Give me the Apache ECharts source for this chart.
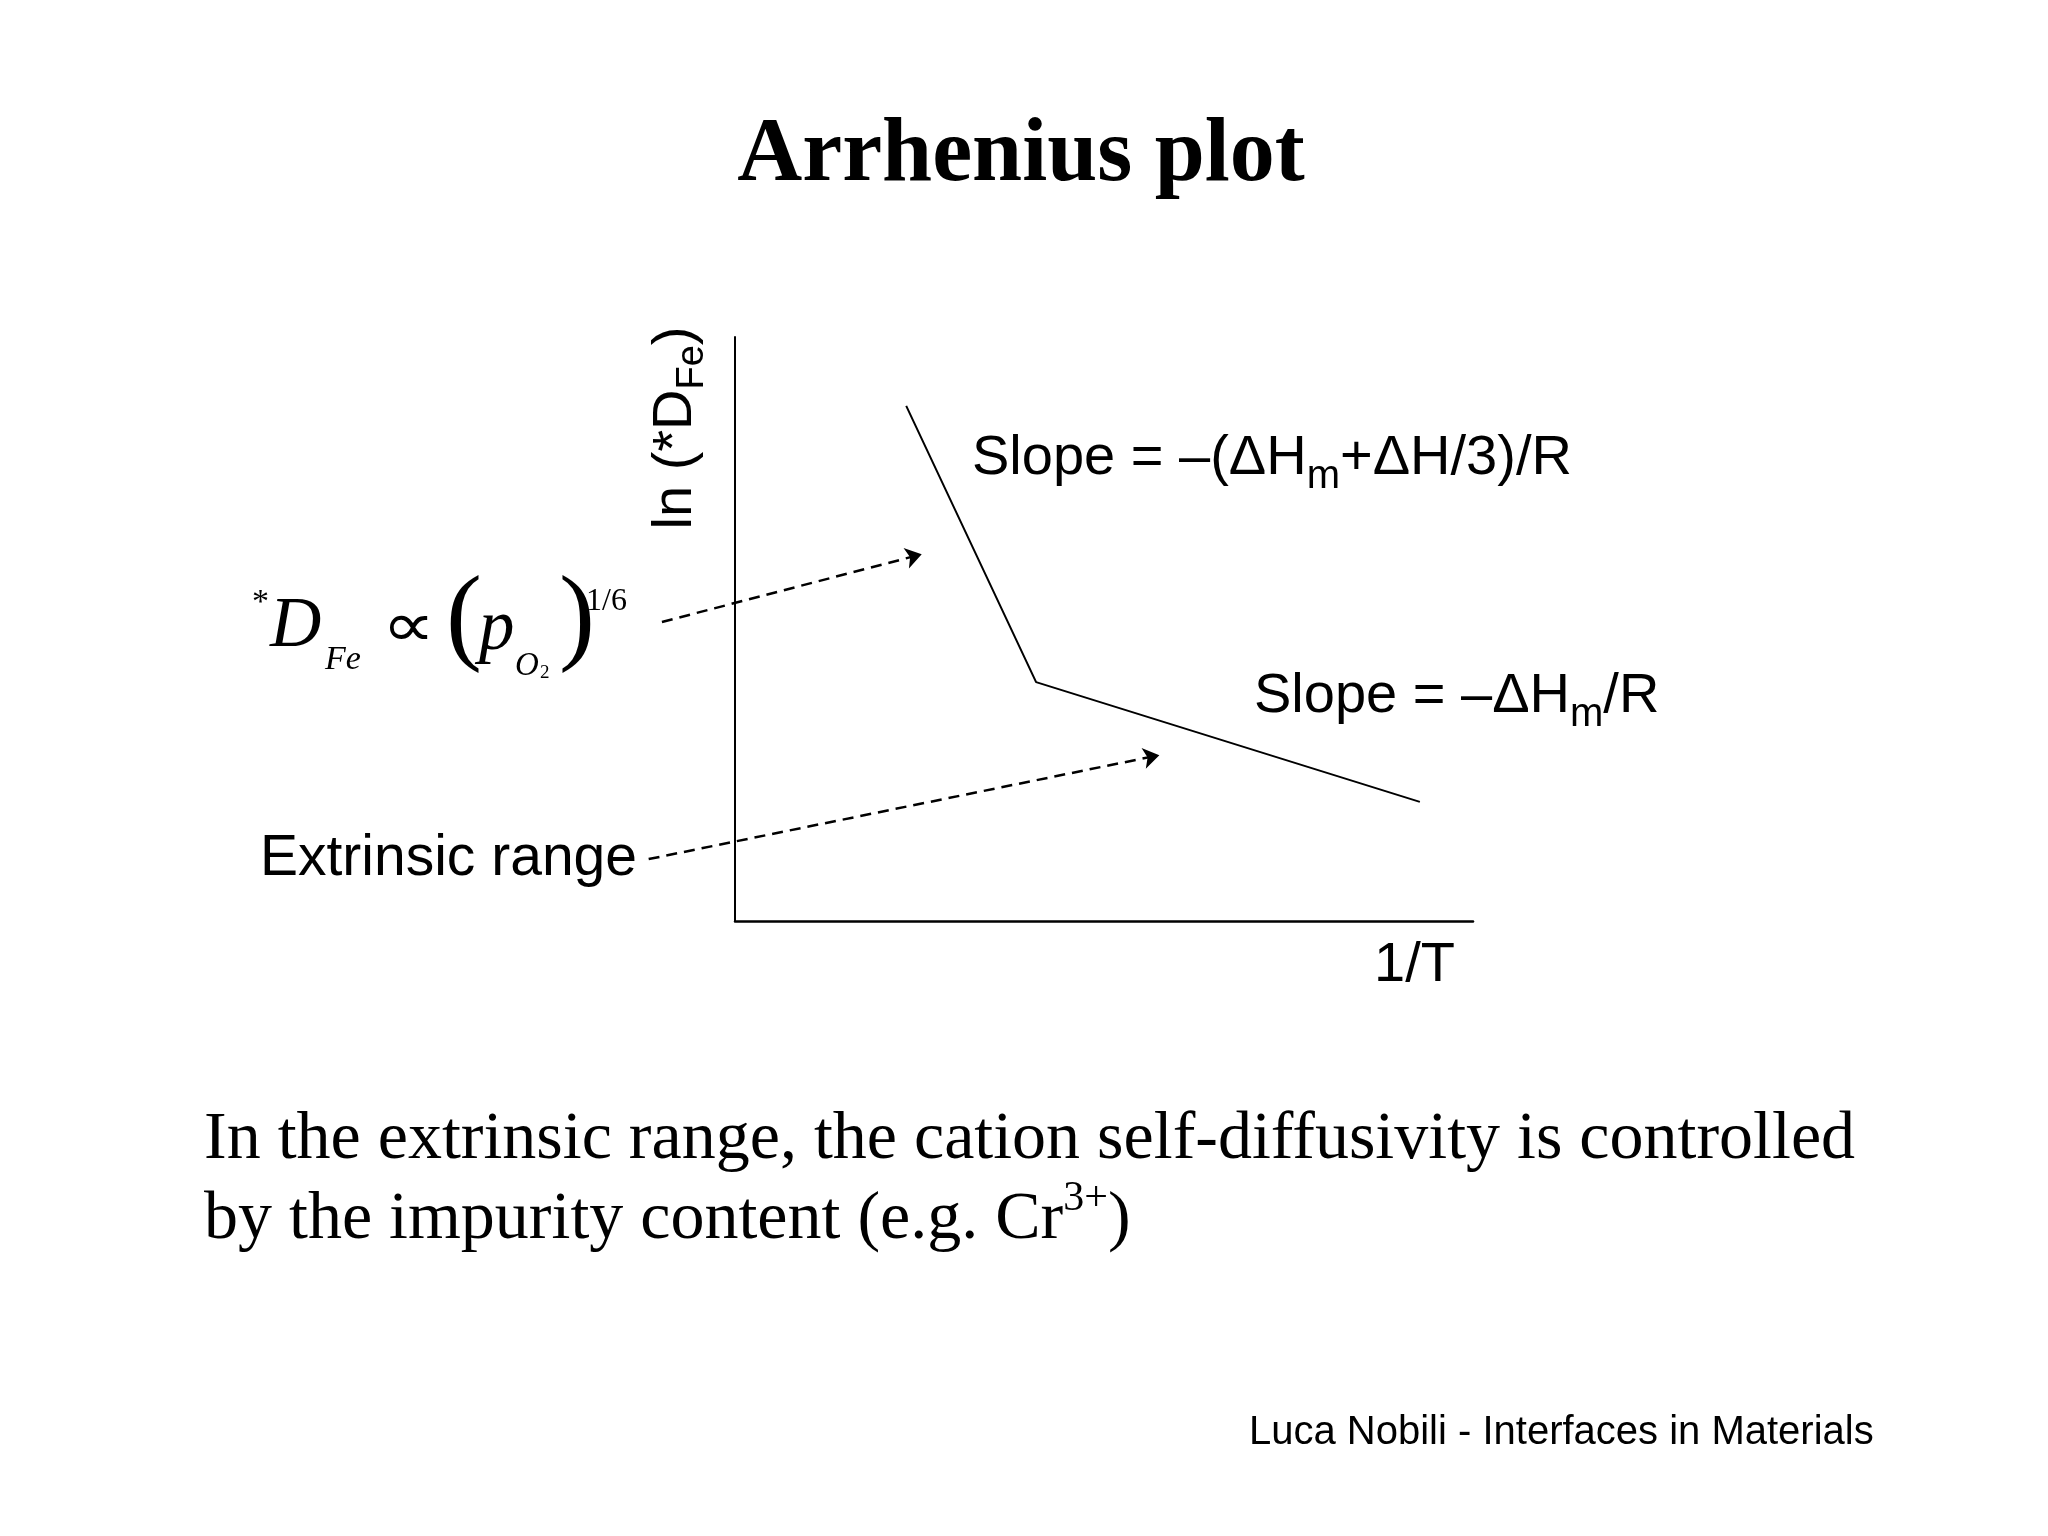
<!DOCTYPE html>
<html>
<head>
<meta charset="utf-8">
<title>Arrhenius plot</title>
<script src="https://cdn.jsdelivr.net/npm/echarts@6/dist/echarts.min.js"></script>
<style>
html, body { margin: 0; padding: 0; background: #fff; }
#chart { width: 2048px; height: 1536px; }
</style>
</head>
<body>
<div id="chart"></div>
<script>
// schematic plot, axis units 0..100 (no scale on the slide)
var invT = [23.2, 40.8, 92.8];
var lnD  = [88.2, 40.9, 20.4];
// dashed pointers: from label to the segment
var arrowFrom = [[-9.9, 51.2], [-11.7, 10.6]];
var arrowTo   = [[25.3, 62.8], [57.5, 28.4]];

var SERIF = '"Liberation Serif", "Times New Roman", serif';
var SANS = '"Liberation Sans", Arial, sans-serif';

var chart = echarts.init(document.getElementById('chart'));

function txt(x, y, text, font, extra) {
  var style = {
    text: text, font: font, fill: '#000',
    align: 'left', verticalAlign: 'middle',
    textAlign: 'left', textVerticalAlign: 'middle'
  };
  var el = { type: 'text', x: x, y: y, style: style, silent: true };
  if (extra) {
    for (var k in extra) {
      if (k === 'style') { for (var s in extra.style) style[s] = extra.style[s]; }
      else el[k] = extra[k];
    }
  }
  return el;
}

var lineData = invT.map(function (v, i) { return [v, lnD[i]]; });
var arrows = arrowFrom.map(function (p, i) {
  return { coords: [p, arrowTo[i]] };
});

var axisCommon = {
  type: 'value', min: 0, max: 100,
  axisTick: { show: false },
  axisLabel: { show: false },
  splitLine: { show: false }
};

chart.setOption({
  backgroundColor: '#fff',
  animation: false,
  grid: { left: 735, top: 337, right: 575, bottom: 615 },
  xAxis: Object.assign({}, axisCommon, {
    axisLine: { show: true, lineStyle: { color: '#000', width: 2.5 } }
  }),
  yAxis: Object.assign({}, axisCommon, {
    axisLine: { show: true, lineStyle: { color: '#000', width: 2 } }
  }),
  series: [{
    type: 'line',
    data: lineData,
    symbol: 'none',
    clip: false,
    silent: true,
    lineStyle: { color: '#000', width: 2 }
  }, {
    type: 'lines',
    coordinateSystem: 'cartesian2d',
    clip: false,
    silent: true,
    symbol: ['none', 'arrow'],
    symbolSize: 16,
    lineStyle: { color: '#000', width: 2.5, type: [11, 7], opacity: 1 },
    data: arrows
  }],
  graphic: [
    txt(1021, 157, 'Arrhenius plot', 'bold 90px ' + SERIF, { style: { align: 'center', textAlign: 'center' } }),

    // y axis name, rotated
    txt(676, 428, '{a|ln (*D}{s|Fe}{a|)}', '56px ' + SANS, {
      rotation: Math.PI / 2,
      style: {
        align: 'center', textAlign: 'center',
        rich: {
          a: { font: '56px ' + SANS, lineHeight: 72, fill: '#000' },
          s: { font: '38px ' + SANS, lineHeight: 38, verticalAlign: 'bottom', fill: '#000' }
        }
      }
    }),
    txt(1374, 966, '1/T', '56px ' + SANS),

    txt(972, 459, '{a|Slope = –(ΔH}{s|m}{a|+ΔH/3)/R}', '56px ' + SANS, {
      style: {
        rich: {
          a: { font: '56px ' + SANS, lineHeight: 76, fill: '#000' },
          s: { font: '40px ' + SANS, lineHeight: 40, verticalAlign: 'bottom', fill: '#000' }
        }
      }
    }),
    txt(1254, 697, '{a|Slope = –ΔH}{s|m}{a|/R}', '56px ' + SANS, {
      style: {
        rich: {
          a: { font: '56px ' + SANS, lineHeight: 76, fill: '#000' },
          s: { font: '40px ' + SANS, lineHeight: 40, verticalAlign: 'bottom', fill: '#000' }
        }
      }
    }),
    txt(260, 859, 'Extrinsic range', '57px ' + SANS),

    // *D_Fe ∝ (p_O2)^1/6
    txt(252, 603, '*', '34px ' + SERIF),
    txt(270, 627, 'D', 'italic 71px ' + SERIF),
    txt(325, 660, 'Fe', 'italic 34px ' + SERIF),
    txt(382, 630, '∝', '62px ' + SERIF, { scaleX: 1.2 }),
    txt(446, 622, '(', '108px ' + SERIF),
    txt(479, 630, 'p', 'italic 71px ' + SERIF),
    txt(515, 666, 'O', 'italic 33px ' + SERIF),
    txt(540, 673, '2', '19px ' + SERIF),
    txt(559, 622, ')', '108px ' + SERIF),
    txt(586, 602, '1/6', '32px ' + SERIF),

    txt(204, 1140, 'In the extrinsic range, the cation self-diffusivity is controlled', '68px ' + SERIF),
    txt(204, 1220, '{a|by the impurity content (e.g. Cr}{p|3+}{a|)}', '68px ' + SERIF, {
      style: {
        rich: {
          a: { font: '68px ' + SERIF, lineHeight: 84, fill: '#000' },
          p: { font: '42px ' + SERIF, lineHeight: 54, verticalAlign: 'top', fill: '#000' }
        }
      }
    }),

    txt(1249, 1433, 'Luca Nobili - Interfaces in Materials', '40px ' + SANS)
  ]
});
</script>
</body>
</html>
